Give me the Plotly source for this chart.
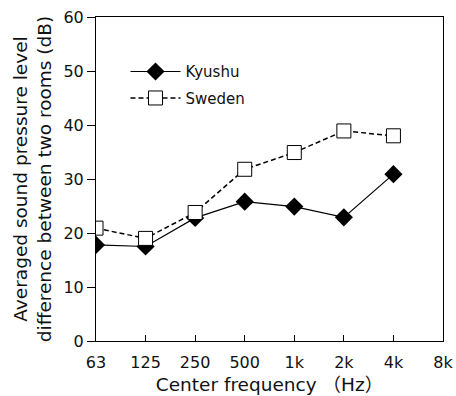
import plotly.graph_objects as go

categories = ["63", "125", "250", "500", "1k", "2k", "4k", "8k"]
kyushu = [17.8, 17.5, 22.8, 25.8, 24.9, 22.9, 30.9]
sweden = [20.9, 19.0, 23.8, 31.8, 34.9, 38.9, 38.0]
y_ticks = [0, 10, 20, 30, 40, 50, 60]

font_family = "DejaVu Sans, Noto Sans CJK JP, sans-serif"

fig = go.Figure()
fig.add_trace(go.Scatter(
    x=list(range(len(kyushu))), y=kyushu, name="Kyushu", legendgroup="k",
    mode="lines+markers",
    line=dict(color="black", width=1.2),
    marker=dict(symbol="diamond", size=14, color="black"),
))
fig.add_trace(go.Scatter(
    x=list(range(len(sweden))), y=sweden, name="Sweden", legendgroup="s",
    mode="lines+markers",
    line=dict(color="black", width=1.5, dash="5px,3px"),
    marker=dict(symbol="square", size=14, color="white",
                line=dict(color="black", width=1)),
))

fig.update_layout(
    width=456, height=396,
    margin=dict(l=96, r=13, t=17, b=55),
    paper_bgcolor="white", plot_bgcolor="white",
    font=dict(family=font_family, size=16, color="#111"),
    showlegend=True,
    legend=dict(x=0.085, y=0.882, xanchor="left", yanchor="top",
                bgcolor="rgba(0,0,0,0)", font=dict(size=15),
                itemwidth=50, tracegroupgap=4),
)
fig.update_xaxes(
    range=[0, len(categories) - 1],
    tickmode="array", tickvals=list(range(len(categories))), ticktext=categories,
    ticks="inside", ticklen=6, tickcolor="black",
    showline=True, linecolor="black", linewidth=1, mirror=True,
    showgrid=False, zeroline=False, automargin=False,
    tickfont=dict(size=16), ticklabelstandoff=7,
    title=dict(text="Center frequency （Hz）", font=dict(size=18.5), standoff=6),
)
fig.update_yaxes(
    range=[0, 60], tickvals=y_ticks,
    ticks="outside", ticklen=8, tickcolor="black",
    showline=True, linecolor="black", linewidth=1, mirror=True,
    showgrid=False, zeroline=False, automargin=False,
    tickfont=dict(size=16),
    title=dict(text="Averaged sound pressure level<br>difference between two rooms (dB)",
               font=dict(size=18.5), standoff=6),
)

fig.write_html("out.html")
